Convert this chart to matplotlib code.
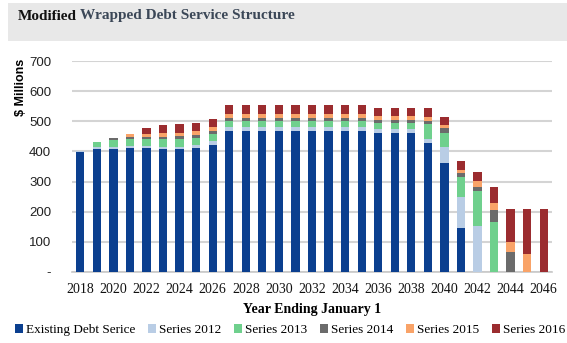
import numpy as np
import matplotlib.pyplot as plt
from matplotlib.patches import Rectangle

years = list(range(2018, 2047))

existing = [397, 407, 407, 410, 410, 408, 407, 410, 421,
            468, 468, 468, 468, 468, 468, 468, 468, 468,
            460, 460, 460, 427, 363, 147, 0, 0, 0, 0, 0]
s2012 = [4, 8, 8, 8, 8, 8, 8, 10, 15,
         13, 13, 13, 13, 13, 13, 13, 13, 13,
         13, 13, 13, 13, 53, 103, 153, 0, 0, 0, 0]
s2013 = [0, 15, 24, 22, 22, 24, 25, 25, 21,
         20, 20, 20, 20, 20, 20, 20, 20, 20,
         20, 20, 20, 50, 46, 66, 116, 167, 0, 0, 0]
s2014 = [0, 0, 5, 8, 8, 9, 10, 11, 12,
         11, 11, 11, 11, 11, 11, 11, 11, 11,
         11, 11, 11, 12, 15, 11, 12, 39, 65, 0, 0]
s2015 = [0, 0, 2, 11, 10, 11, 11, 12, 11,
         13, 13, 13, 13, 13, 13, 13, 13, 13,
         13, 13, 13, 13, 11, 11, 22, 22, 35, 59, 0]
s2016 = [0, 0, 0, 0, 19, 28, 30, 26, 28,
         28, 28, 28, 28, 28, 28, 28, 28, 28,
         26, 26, 26, 28, 27, 31, 28, 53, 108, 149, 208]

series = [
    ("Existing Debt Serice", existing, "#0b3f8f"),
    ("Series 2012", s2012, "#b9cde5"),
    ("Series 2013", s2013, "#6fd08d"),
    ("Series 2014", s2014, "#6b6b6b"),
    ("Series 2015", s2015, "#f9a368"),
    ("Series 2016", s2016, "#9b2c2f"),
]

W, H = 567, 343
fig = plt.figure(figsize=(W / 100, H / 100), dpi=100)
fig.patch.set_facecolor("white")

# title band
fig.patches.append(Rectangle((8 / W, 1 - 41 / H), 1 - 8 / W, 38 / H,
                             transform=fig.transFigure, facecolor="#e8e8e8",
                             edgecolor="none", zorder=0))
t1 = fig.text(18 / W, 1 - 16 / H, "Modified", fontsize=11, fontweight="bold",
              family="Liberation Serif", color="#111111", va="center")
fig.canvas.draw()
bb = t1.get_window_extent(fig.canvas.get_renderer())
fig.text(bb.x1 / W + 3 / W, 1 - 16 / H, "Wrapped Debt Service Structure", fontsize=11,
         fontweight="bold", family="Liberation Serif", color="#3b4757", va="center")

ax = fig.add_axes([72 / W, 1 - 272 / H, 480 / W, 211 / H])
x = np.arange(len(years))
bottom = np.zeros(len(years))
for name, vals, col in series:
    vals = np.array(vals, dtype=float)
    ax.bar(x, vals, 0.5, bottom=bottom, color=col, label=name, zorder=3)
    bottom += vals

ax.set_xlim(-0.5, len(years) - 0.5)
ax.set_ylim(0, 700)
ax.set_yticks(range(0, 701, 100))
ax.set_yticklabels(["-"] + [str(v) for v in range(100, 701, 100)],
                   family="Liberation Sans", fontsize=9.5, color="#222222")
ax.set_xticks(x[::2])
ax.set_xticklabels([str(y) for y in years[::2]], family="Liberation Serif",
                   fontsize=10, color="#111111")
ax.tick_params(axis="both", length=0)
ax.tick_params(axis="y", pad=15)
ax.tick_params(axis="x", pad=8)
ax.grid(axis="y", color="#d4d4d4", linewidth=1.5, zorder=0)
for s in ["top", "right", "left"]:
    ax.spines[s].set_visible(False)
ax.spines["bottom"].set_color("#c8c8c8")
ax.spines["bottom"].set_linewidth(1.2)

fig.text(21 / W, 1 - 87 / H, "$ Millions", rotation=90, fontsize=9,
         fontweight="bold", family="Liberation Sans", ha="center", va="center")
fig.text(312 / W, 1 - 309 / H, "Year Ending January 1", fontsize=10,
         fontweight="bold", family="Liberation Serif", ha="center", va="center")

handles, labels = ax.get_legend_handles_labels()
fig.legend(handles, labels, loc="center", bbox_to_anchor=(290 / W, 1 - 330 / H), ncol=6,
           frameon=False, handlelength=0.6, handleheight=0.6, handletextpad=0.25,
           columnspacing=0.95, borderpad=0, borderaxespad=0,
           prop={"family": "Liberation Serif", "size": 9.5})

fig.savefig("out.png", dpi=100)
